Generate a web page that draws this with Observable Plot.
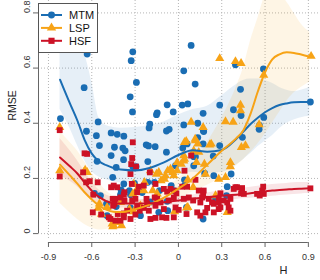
<!DOCTYPE html>
<html><head><meta charset="utf-8">
<script src="https://cdn.jsdelivr.net/npm/d3@7"></script>
<script src="https://cdn.jsdelivr.net/npm/@observablehq/plot@0.6"></script>
<style>body{margin:0;background:#fff;} #chart{width:320px;height:280px;}</style>
</head><body><div id="chart"></div>
<script>
const series = ["MTM", "LSP", "HSF"];
const colors = ["#1a6db3", "#f7a316", "#cc1226"];
const xTicks = [-0.9, -0.6, -0.3, 0, 0.3, 0.6, 0.9];
const xTickLabels = ["-0.9", "-0.6", "-0.3", "0", "0.3", "0.6", "0.9"];
const yTicks = [0, 0.2, 0.4, 0.6, 0.8];
const yTickLabels = ["0", "0.2", "0.4", "0.6", "0.8"];
const xDomain = [-0.969, 0.984];
const yDomain = [-0.025, 0.845];

const mtmH = [-0.817,-0.632,-0.653,-0.637,-0.556,-0.466,-0.424,-0.378,-0.316,-0.327,-0.291,-0.334,-0.318,-0.198,-0.203,-0.147,-0.152,-0.078,-0.036,-0.083,-0.064,0.088,0.037,0.116,0.026,0.065,0.171,0.286,0.395,0.43,0.381,0.434,0.037,0.134,0.589,0.591,0.561,0.559,0.914,0.134,0.443,0.173,-0.568,
-0.547,-0.443,-0.385,-0.369,-0.223,-0.207,-0.161,-0.466,-0.38,-0.563,-0.431,-0.316,-0.293,-0.212,-0.083,0.03,-0.02,-0.455,-0.378,-0.397,-0.339,-0.304,-0.212,-0.166,-0.131,-0.05,-0.581,-0.54,-0.498,-0.431,-0.27,-0.251,-0.401,-0.332,-0.194,-0.078,-0.074,-0.032,-0.494,-0.263,-0.136,-0.332,
0.175,0.06,0.171,0.286,0.106,0.118,0.241,0.106,0.182,0.245,0.365,0.042,0.042,0.338,0.171,0.056,0.257,0.333];
const mtmRMSE = [0.417,0.651,0.529,0.371,0.405,0.365,0.36,0.353,0.659,0.627,0.548,0.496,0.441,0.397,0.383,0.438,0.431,0.467,0.441,0.372,0.378,0.682,0.59,0.542,0.466,0.47,0.436,0.466,0.612,0.523,0.449,0.428,0.394,0.40,0.597,0.421,0.392,0.378,0.477,0.348,0.349,0.373,0.355,
0.319,0.313,0.31,0.30,0.322,0.318,0.315,0.283,0.268,0.262,0.24,0.243,0.243,0.261,0.295,0.31,0.246,0.204,0.18,0.158,0.156,0.182,0.186,0.186,0.156,0.174,0.146,0.138,0.108,0.098,0.095,0.149,0.141,0.141,0.115,0.117,0.083,0.156,0.065,0.065,0.077,0.093,
0.37,0.325,0.325,0.319,0.279,0.279,0.281,0.246,0.218,0.21,0.216,0.195,0.174,0.17,0.053,0.095,0.126,0.138];

const lspH = [-0.822,0.286,0.395,0.434,0.591,0.919,0.43,0.43,0.088,0.171,0.326,0.379,0.559,0.116,
-0.822,-0.646,-0.632,-0.655,-0.556,-0.547,-0.533,-0.494,-0.448,-0.455,-0.394,-0.316,-0.263,-0.194,-0.152,-0.136,-0.09,-0.074,-0.055,-0.12,-0.309,-0.286,-0.24,-0.235,-0.178,-0.147,-0.032,-0.039,-0.097,-0.401,-0.268,-0.339,-0.309,-0.459,-0.42,-0.009,-0.009,-0.027,
0.042,0.054,0.118,0.134,0.227,0.037,0.042,0.037,0.019,0.125,0.18,0.187,0.36,0.36,0.464,0.279,0.326,0.065,0.065,0.257,0.056,0.102,0.141,0.217,0.436,0.338,0.106];
const lspRMSE = [0.385,0.635,0.624,0.617,0.575,0.643,0.466,0.446,0.404,0.385,0.406,0.404,0.395,0.343,
0.228,0.23,0.222,0.222,0.092,0.108,0.071,0.095,0.029,0.025,0.029,0.144,0.101,0.228,0.216,0.222,0.21,0.228,0.234,0.192,0.18,0.162,0.156,0.186,0.156,0.144,0.21,0.222,0.198,0.113,0.095,0.089,0.08,0.035,0.041,0.228,0.258,0.08,
0.331,0.335,0.337,0.325,0.325,0.283,0.27,0.264,0.252,0.258,0.252,0.216,0.258,0.243,0.319,0.198,0.204,0.195,0.095,0.138,0.093,0.168,0.295,0.322,0.313,0.077,0.30];

const hsfH = [-0.822,-0.822,-0.65,-0.632,-0.66,-0.639,-0.614,-0.559,-0.59,-0.593,-0.535,-0.482,-0.316,-0.32,-0.327,-0.293,-0.466,-0.424,-0.323,-0.374,-0.455,-0.443,-0.374,-0.286,-0.471,-0.436,-0.401,-0.378,-0.332,-0.298,-0.268,-0.194,-0.217,-0.159,-0.164,-0.198,-0.332,-0.159,-0.448,-0.378,-0.275,-0.24,-0.101,-0.078,-0.055,-0.027,-0.014,-0.436,-0.401,-0.32,-0.298,-0.221,-0.147,-0.124,-0.067,-0.032,-0.355,-0.42,-0.378,-0.286,-0.24,-0.159,-0.113,-0.083,-0.032,-0.02,0.002,-0.452,-0.101,-0.205,
0.088,0.042,0.118,0.026,0.06,0.141,0.175,0.171,0.291,0.383,0.406,0.441,0.434,0.453,0.037,0.072,0.102,0.152,0.164,0.21,0.233,0.245,0.279,0.314,0.338,0.36,0.348,0.36,0.056,0.13,0.152,0.245,0.279,0.187,0.199,0.395,0.545,0.58,0.587,0.591,0.563,0.914,0.279,0.291];
const hsfRMSE = [0.375,0.207,0.291,0.289,0.222,0.186,0.19,0.186,0.141,0.077,0.069,0.059,0.331,0.274,0.252,0.243,0.168,0.168,0.18,0.15,0.126,0.108,0.12,0.15,0.053,0.047,0.047,0.059,0.053,0.069,0.083,0.053,0.108,0.101,0.131,0.222,0.216,0.18,0.174,0.141,0.17,0.174,0.162,0.152,0.162,0.156,0.146,0.126,0.131,0.12,0.126,0.126,0.126,0.113,0.12,0.131,0.083,0.071,0.073,0.098,0.093,0.057,0.059,0.057,0.059,0.095,0.086,0.101,0.089,0.083,
0.283,0.228,0.195,0.17,0.17,0.156,0.156,0.138,0.146,0.162,0.168,0.165,0.146,0.144,0.126,0.131,0.12,0.113,0.131,0.126,0.113,0.108,0.126,0.12,0.113,0.126,0.095,0.083,0.071,0.077,0.065,0.077,0.089,0.077,0.093,0.168,0.144,0.156,0.17,0.144,0.138,0.164,0.113,0.095];

// smooth fits and confidence bands, read at these H knots
const knotH = [-0.82,-0.75,-0.7,-0.65,-0.6,-0.55,-0.5,-0.45,-0.4,-0.3,-0.2,-0.1,0,0.1,0.2,0.3,0.4,0.45,0.5,0.55,0.6,0.65,0.7,0.75,0.8,0.85,0.91];
const mtmFit = [0.558,0.47,0.41,0.34,0.29,0.262,0.248,0.238,0.232,0.229,0.238,0.258,0.285,0.302,0.297,0.303,0.343,0.37,0.397,0.42,0.44,0.455,0.466,0.472,0.476,0.477,0.477];
const mtmLo  = [0.45,0.38,0.32,0.265,0.225,0.205,0.195,0.188,0.184,0.184,0.19,0.2,0.212,0.222,0.218,0.222,0.248,0.268,0.29,0.315,0.335,0.355,0.38,0.4,0.412,0.42,0.425];
const mtmHi  = [0.7,0.7,0.69,0.65,0.55,0.42,0.392,0.385,0.382,0.385,0.392,0.405,0.43,0.45,0.462,0.5,0.54,0.555,0.56,0.56,0.555,0.545,0.53,0.52,0.515,0.52,0.53];
const lspFit = [0.25,0.21,0.181,0.15,0.124,0.102,0.087,0.079,0.078,0.088,0.105,0.13,0.163,0.2,0.25,0.3,0.345,0.375,0.435,0.515,0.585,0.632,0.65,0.657,0.655,0.649,0.641];
const lspLo  = [0.11,0.075,0.052,0.033,0.02,0.013,0.015,0.025,0.04,0.06,0.078,0.1,0.125,0.152,0.175,0.205,0.245,0.268,0.295,0.325,0.36,0.4,0.44,0.48,0.51,0.53,0.55];
const lspHi  = [0.37,0.33,0.3,0.26,0.22,0.185,0.155,0.135,0.122,0.118,0.132,0.16,0.2,0.25,0.33,0.42,0.53,0.6,0.7,0.78,0.86,0.88,0.87,0.84,0.8,0.76,0.73];
const hsfFit = [0.276,0.243,0.218,0.185,0.155,0.133,0.118,0.111,0.109,0.109,0.11,0.114,0.12,0.126,0.132,0.137,0.141,0.143,0.146,0.15,0.153,0.156,0.158,0.16,0.162,0.163,0.164];
const hsfLo  = [0.21,0.19,0.17,0.145,0.125,0.108,0.098,0.094,0.093,0.095,0.097,0.1,0.106,0.112,0.118,0.122,0.124,0.126,0.128,0.13,0.133,0.135,0.138,0.14,0.142,0.144,0.145];
const hsfHi  = [0.345,0.3,0.265,0.225,0.188,0.158,0.14,0.13,0.126,0.124,0.124,0.128,0.134,0.14,0.147,0.155,0.162,0.165,0.168,0.172,0.175,0.178,0.18,0.182,0.184,0.185,0.185];

const pts = (hs, rs) => hs.map((h, i) => ({H: h, RMSE: rs[i]}));
const curve = (fit, lo, hi) => knotH.map((h, i) => ({H: h, fit: fit[i], lo: lo[i], hi: hi[i]}));
const mtmPts = pts(mtmH, mtmRMSE), lspPts = pts(lspH, lspRMSE), hsfPts = pts(hsfH, hsfRMSE);
const mtmC = curve(mtmFit, mtmLo, mtmHi), lspC = curve(lspFit, lspLo, lspHi), hsfC = curve(hsfFit, hsfLo, hsfHi);

const font = "'Liberation Sans', Arial, Helvetica, sans-serif";
const band = (d, c, o) => Plot.areaY(d, {x: "H", y1: "lo", y2: "hi", curve: "monotone-x", fill: c, fillOpacity: o, clip: true});
const fitLine = (d, c) => Plot.line(d, {x: "H", y: "fit", curve: "monotone-x", stroke: c, strokeWidth: 2});

const chart = Plot.plot({
  width: 320, height: 280,
  marginLeft: 38, marginRight: 0, marginTop: 0, marginBottom: 40,
  x: {domain: xDomain, axis: null, label: null},
  y: {domain: yDomain, axis: null, label: null},
  style: {fontFamily: font, background: "white"},
  marks: [
    Plot.gridX(xTicks, {stroke: "#b5b5b5", strokeOpacity: 1, strokeDasharray: "1,2"}),
    Plot.gridY(yTicks, {stroke: "#b5b5b5", strokeOpacity: 1, strokeDasharray: "1,2"}),
    band(mtmC, colors[0], 0.11),
    band(lspC, colors[1], 0.11),
    band(hsfC, colors[2], 0.11),
    Plot.dot(mtmPts, {x: "H", y: "RMSE", symbol: "circle", r: 3.4, fill: colors[0]}),
    Plot.dot(lspPts, {x: "H", y: "RMSE", symbol: "triangle", r: 3.4, fill: colors[1]}),
    Plot.dot(hsfPts, {x: "H", y: "RMSE", symbol: "square", r: 3.3, fill: colors[2]}),
    fitLine(mtmC, colors[0]),
    fitLine(lspC, colors[1]),
    fitLine(hsfC, colors[2]),
    Plot.ruleY([yDomain[0]], {x1: xTicks[0], x2: xTicks[xTicks.length - 1], dy: 2, stroke: "#666"}),
    Plot.ruleX([xDomain[0]], {y1: yTicks[0], y2: yTicks[yTicks.length - 1], stroke: "#666"}),
    Plot.axisX({ticks: xTicks, anchor: "bottom", label: null, tickSize: 5, tickPadding: 6, dy: 2, stroke: "#666", fill: "#333", fontSize: 9,
      tickFormat: d => xTickLabels[xTicks.indexOf(d)]}),
    Plot.axisY({ticks: yTicks, anchor: "left", label: null, tickSize: 5, stroke: "#666", tickFormat: () => ""}),
    Plot.text(yTicks, {y: d => d, text: d => yTickLabels[yTicks.indexOf(d)], frameAnchor: "left", dx: -11, rotate: -90, fontSize: 9, fill: "#333"}),
    Plot.text(["H"], {frameAnchor: "bottom-right", dx: -33, dy: 33, fontSize: 11, fill: "#222"}),
    Plot.text(["RMSE"], {frameAnchor: "left", dx: -26, rotate: -90, fontSize: 10.5, fill: "#222"})
  ]
});

// legend box, top-left inside the plot
const lg = d3.select(chart).append("g").attr("text-anchor", "start")
  .style("font-family", font).style("font-size", "11px");
lg.append("rect").attr("x", 38.5).attr("y", 3.5).attr("width", 59).attr("height", 49)
  .attr("fill", "white").attr("stroke", "#555");
const symTypes = [d3.symbolCircle, d3.symbolTriangle, d3.symbolSquare];
series.forEach((s, i) => {
  const yy = 15 + i * 12.9;
  lg.append("line").attr("x1", 41).attr("x2", 62).attr("y1", yy).attr("y2", yy)
    .attr("stroke", colors[i]).attr("stroke-width", 2);
  lg.append("path").attr("d", d3.symbol(symTypes[i], 38)()).attr("transform", `translate(51.5,${yy})`).attr("fill", colors[i]);
  lg.append("text").attr("x", 69).attr("y", yy).attr("dy", "0.35em").attr("text-anchor", "start").attr("fill", "#111").text(s);
});

document.getElementById("chart").appendChild(chart);
</script>
</body></html>
